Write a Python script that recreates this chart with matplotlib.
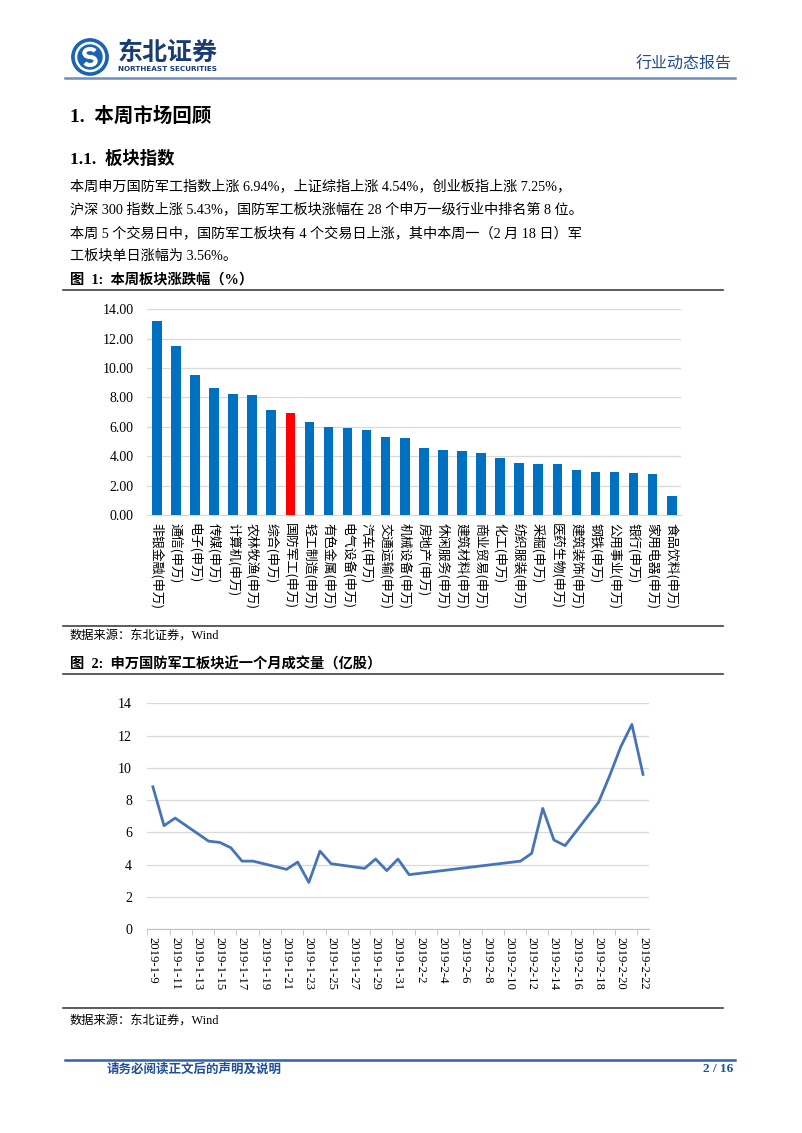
import numpy as np
import pandas as pd
import matplotlib
matplotlib.use("Agg")
import matplotlib.pyplot as plt
from matplotlib.patches import Circle, Arc

# Data
industries = ["非银金融(申万)", "通信(申万)", "电子(申万)", "传媒(申万)", "计算机(申万)",
              "农林牧渔(申万)", "综合(申万)", "国防军工(申万)", "轻工制造(申万)", "有色金属(申万)",
              "电气设备(申万)", "汽车(申万)", "交通运输(申万)", "机械设备(申万)", "房地产(申万)",
              "休闲服务(申万)", "建筑材料(申万)", "商业贸易(申万)", "化工(申万)", "纺织服装(申万)",
              "采掘(申万)", "医药生物(申万)", "建筑装饰(申万)", "钢铁(申万)", "公用事业(申万)",
              "银行(申万)", "家用电器(申万)", "食品饮料(申万)"]
weekly_change = [13.20, 11.48, 9.55, 8.62, 8.22, 8.16, 7.13, 6.94, 6.34, 5.99,
                 5.90, 5.80, 5.28, 5.27, 4.54, 4.41, 4.33, 4.22, 3.87, 3.57,
                 3.49, 3.48, 3.03, 2.95, 2.94, 2.86, 2.78, 1.28]
highlight = "国防军工(申万)"

trade_dates = ["2019-01-09", "2019-01-10", "2019-01-11",
               "2019-01-14", "2019-01-15", "2019-01-16", "2019-01-17", "2019-01-18",
               "2019-01-21", "2019-01-22", "2019-01-23", "2019-01-24", "2019-01-25",
               "2019-01-28", "2019-01-29", "2019-01-30", "2019-01-31", "2019-02-01",
               "2019-02-11", "2019-02-12", "2019-02-13", "2019-02-14", "2019-02-15",
               "2019-02-18", "2019-02-19", "2019-02-20", "2019-02-21", "2019-02-22"]
volume = [8.82, 6.41, 6.88,
          5.45, 5.37, 5.04, 4.21, 4.21,
          3.70, 4.15, 2.89, 4.83, 4.05,
          3.76, 4.34, 3.62, 4.34, 3.37,
          4.21, 4.69, 7.48, 5.52, 5.17,
          7.85, 9.50, 11.30, 12.69, 9.59]

W, H = 802, 1133
fig = plt.figure(figsize=(W / 100, H / 100), dpi=100)
fig.patch.set_facecolor("white")

CJK = ["Noto Sans CJK SC", "DejaVu Sans"]
MIX = ["Liberation Serif", "Noto Sans CJK SC", "DejaVu Sans"]
SERIF = ["Liberation Serif", "DejaVu Serif"]


def fx(x):
    return x / W


def fy(y):
    return 1 - y / H


def box(x0, y0, x1, y1):
    return [x0 / W, 1 - y1 / H, (x1 - x0) / W, (y1 - y0) / H]


def hline(y, x0, x1, color="#404040", lw=1.2):
    fig.add_artist(plt.Line2D([fx(x0), fx(x1)], [fy(y), fy(y)], color=color, lw=lw))


def text(x, y, s, size, family=MIX, weight="normal", color="black", ha="left"):
    fig.text(fx(x), fy(y), s, fontsize=size, family=family, weight=weight,
             color=color, ha=ha, va="center")


# Header
logo = fig.add_axes(box(68, 37, 112, 77))
logo.set_xlim(-1.1, 1.1)
logo.set_ylim(-1.1, 1.1)
logo.set_aspect("equal")
logo.axis("off")
logo.add_patch(Circle((0, 0), 1.0, color="#1B63B3"))
logo.add_patch(Circle((0, 0), 0.80, color="white"))
logo.add_patch(Circle((0, 0), 0.66, color="#1B63B3"))
logo.add_patch(Arc((0.0, 0.22), 0.62, 0.44, theta1=20, theta2=270, color="white", lw=3))
logo.add_patch(Arc((0.0, -0.22), 0.62, 0.44, theta1=200, theta2=450, color="white", lw=3))

text(118, 53, "东北证券", 18, family=CJK, weight="bold", color="#1A3C73")
text(118, 69, "NORTHEAST SECURITIES", 5.2, family=["DejaVu Sans"], weight="bold", color="#1A3C73")
text(732, 64, "行业动态报告", 11.5, family=CJK, color="#1F4E8C", ha="right")
hline(78, 65, 735, color="#6A8EC0", lw=1.8)

# Section text
text(70, 116, "1.  本周市场回顾", 14, weight="bold")
text(70, 159, "1.1.  板块指数", 12.5, weight="bold")
body = ["本周申万国防军工指数上涨 6.94%，上证综指上涨 4.54%，创业板指上涨 7.25%，",
        "沪深 300 指数上涨 5.43%，国防军工板块涨幅在 28 个申万一级行业中排名第 8 位。",
        "本周 5 个交易日中，国防军工板块有 4 个交易日上涨，其中本周一（2 月 18 日）军",
        "工板块单日涨幅为 3.56%。"]
for i, line in enumerate(body):
    text(70, 187 + 23 * i, line, 10.2)

# Figure 1
text(70, 280, "图  1:  本周板块涨跌幅（%）", 10.3, weight="bold")
hline(290, 63, 723)

ax1 = fig.add_axes(box(147.3, 309.3, 681.3, 515))
colors = ["#FF0000" if c == highlight else "#0070C0" for c in industries]
ax1.bar(np.arange(len(industries)), weekly_change, width=0.5, color=colors, zorder=3)
ax1.set_xlim(-0.5, len(industries) - 0.5)
ax1.set_ylim(0, 14)
ax1.set_yticks(np.arange(0, 15, 2))
ax1.set_yticklabels([f"{v:.2f}" for v in np.arange(0, 15, 2)], family=SERIF, fontsize=10)
ax1.set_xticks(np.arange(len(industries)))
ax1.set_xticklabels(industries, rotation=-90, family=CJK, fontsize=9.3, va="top", ha="center")
ax1.tick_params(axis="both", length=0)
ax1.tick_params(axis="y", pad=10)
ax1.tick_params(axis="x", pad=6)
ax1.grid(axis="y", color="#D9D9D9", lw=0.9, zorder=0)
for s in ["top", "right", "left"]:
    ax1.spines[s].set_visible(False)
ax1.spines["bottom"].set_color("#D9D9D9")

hline(626, 63, 723)
text(70, 637, "数据来源：东北证券，Wind", 8.8)

# Figure 2
text(70, 664, "图  2:  申万国防军工板块近一个月成交量（亿股）", 10.3, weight="bold")
hline(674, 63, 723)

ax2 = fig.add_axes(box(147.3, 703.3, 648.6, 929))
d = pd.to_datetime(trade_dates)
ax2.plot(d, volume, color="#4674B8", lw=2.0, zorder=3)
start = pd.Timestamp("2019-01-09")
end = pd.Timestamp("2019-02-22")
half = pd.Timedelta(hours=12)
ax2.set_xlim(start - half, end + half)
ax2.set_ylim(0, 14)
ax2.set_yticks(np.arange(0, 15, 2))
ax2.set_yticklabels([str(v) for v in range(0, 15, 2)], family=SERIF, fontsize=10)
label_days = pd.date_range(start, end, freq="2D")
ax2.set_xticks(label_days)
ax2.set_xticklabels([f"{t.year}-{t.month}-{t.day}" for t in label_days],
                    rotation=-90, family=SERIF, fontsize=9.2, va="top", ha="center")
ax2.set_xticks(pd.date_range(start - half, end + half, freq="2D"), minor=True)
ax2.tick_params(axis="x", which="major", length=0, pad=6)
ax2.tick_params(axis="x", which="minor", length=4, color="#BFBFBF")
ax2.tick_params(axis="y", length=0, pad=11)
ax2.grid(axis="y", color="#D9D9D9", lw=0.9, zorder=0)
for s in ["top", "right", "left"]:
    ax2.spines[s].set_visible(False)
ax2.spines["bottom"].set_color("#BFBFBF")

hline(1008, 63, 723)
text(70, 1022, "数据来源：东北证券，Wind", 8.8)

# Footer
hline(1060, 65, 735, color="#2E63B0", lw=1.8)
text(107, 1069, "请务必阅读正文后的声明及说明", 9, family=CJK, weight="bold", color="#1F4E9A")
text(733, 1069, "2 / 16", 9.5, family=SERIF, weight="bold", color="#1F4E9A", ha="right")

fig.savefig("out.png", dpi=100)
